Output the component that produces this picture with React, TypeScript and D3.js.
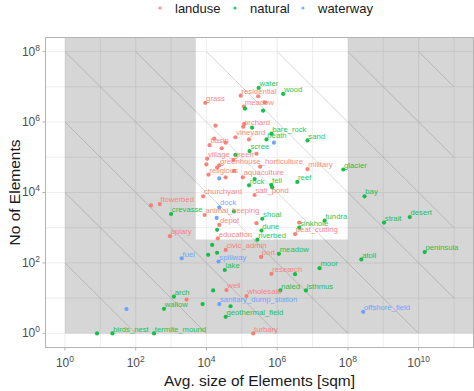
import React from "react";
import * as d3 from "d3";

// ---- data ----
const classes = ["landuse", "natural", "waterway"];
const classColors = ["#F8766D", "#00BA38", "#619CFF"];

// name ("" = unlabelled point), class, avg size [sqm], number of elements
const landuseNames = ["grass","residential","meadow","orchard","vineyard","basin","village_green","greenhouse_horticulture","religious","aquaculture","military","churchyard","salt_pond","flowerbed","","animal_keeping","depot","education","peat_cutting","apiary","civic_admin","port","research","well","wholesale","turbary","","","","","","","","","","","","","","","","","",""];
const landuseSize = [9.3e3,9.3e4,1.15e5,1.1e5,6.6e4,1.23e4,1.05e4,2.3e4,1.15e4,1.07e5,7.2e6,8.1e3,2.3e5,480,270,8.9e3,2.3e4,2.1e4,3.2e6,930,3.5e4,3.5e5,6.9e5,3.7e4,1.35e5,2.1e5,2.75e3,1.8e4,1.66e4,3.5e4,2.7e4,1.6e5,2.6e5,5.8e4,1.0e4,2.0e4,3.3e5,3.5e4,6.0e4,4.5e5,4.2e6,2.6e5,2.9e5,1.17e5];
const landuseCount = [3.5e6,5.6e6,2.75e6,7.4e5,3.7e5,2.2e5,9.1e4,5.9e4,3.2e4,2.7e4,4.6e4,7.8e3,8.5e3,4.7e3,4.3e3,2.3e3,1.2e3,500,660,575,235,148,49,17,11.5,1,9.1,7.9e5,3.4e5,2.6e5,1.8e5,3.2e5,1.26e5,8.3e4,6.3e4,5.1e4,5.4e4,2.7e4,4.1e4,3.6e6,1.4e3,1.35e3,5.4e6,8.9e5];

const naturalNames = ["water","wood","","","","bare_rock","heath","sand","scree","","glacier","rock","","fell","","reef","bay","crevasse","","shoal","tundra","strait","desert","sinkhole","dune","","riverbed","","","","meadow","atoll","peninsula","moor","lake","","naled","isthmus","","arch","","","wallow","geothermal_field","birds_nest","termite_mound",""];
const naturalSize = [3.0e5,1.48e6,1.23e5,4.0e5,1.95e5,6.9e5,5.0e5,7.2e6,1.66e5,6.6e4,7.4e7,1.6e5,2.3e5,6.8e5,7.2e5,3.7e6,2.95e8,1.0e3,6.0e4,3.8e5,2.2e7,1.05e9,5.6e9,4.2e6,3.6e5,2.0e4,2.75e5,1.45e4,2.0e4,1.12e4,1.12e6,2.4e8,1.48e10,1.58e7,3.3e4,3.2e6,1.23e6,6.5e6,1.55e4,1.2e3,7.8e3,4.8e4,630,3.5e4,22,330,8.1];
const naturalCount = [9.3e6,6.3e6,2.4e6,2.1e6,6.9e5,4.7e5,3.2e5,3.0e5,1.5e5,1.17e5,4.5e4,1.6e4,2.4e4,1.66e4,1.4e4,2.0e4,7.8e3,2.45e3,2.9e3,1.8e3,1.6e3,1.4e3,2.0e3,1.0e3,830,870,457,324,195,170,182,126,204,71,63,48,16.6,16.6,16.6,11,6.8,5.9,5,2.95,1,1,1];

const waterwayNames = ["dock","","fuel","spillway","sanitary_dump_station","offshore_field","","",""];
const waterwaySize = [2.3e4,1.95e4,2.0e3,2.2e4,2.3e4,2.7e8,55,2.3e4,8.1e5];
const waterwayCount = [3.8e3,1.9e3,135,110,6.8,4.1,4.9,2.5e4,2.6e5];

// axis ticks
const xTicks = [1, 1e2, 1e4, 1e6, 1e8, 1e10];
const xTickExp = ["0", "2", "4", "6", "8", "10"];
const yTicks = [1, 1e2, 1e4, 1e6, 1e8];
const yTickExp = ["0", "2", "4", "6", "8"];
const gridX = [1,1e1,1e2,1e3,1e4,1e5,1e6,1e7,1e8,1e9,1e10,1e11];
const gridY = [1,1e1,1e2,1e3,1e4,1e5,1e6,1e7,1e8];
// iso-area reference lines: size * count = const
const isoProducts = [1e2,1e4,1e6,1e8,1e10,1e12,1e14,1e16,1e18];
// shaded region bounds
const shadeMin = [1, 1];
const clearX = [5e3, 1e8];
const clearYMin = 460;
const xLim = [0.282, 3.55e11];
const yLim = [0.398, 2.51e8];
const lineXRange = [1, 1e11];
const lineYRange = [1, 1e8];

const FONT = "'Liberation Sans', Arial, Helvetica, sans-serif";

export default function App() {
  const W = 474, H = 391;
  const L = 45.5, R = 473.5, T = 37.5, B = 347.5;
  const x = d3.scaleLog().domain(xLim).range([L, R]);
  const y = d3.scaleLog().domain(yLim).range([B, T]);

  const pts: { name: string; cls: number; sx: number; sy: number }[] = [];
  const groups = [
    [landuseNames, landuseSize, landuseCount],
    [naturalNames, naturalSize, naturalCount],
    [waterwayNames, waterwaySize, waterwayCount],
  ] as [string[], number[], number[]][];
  groups.forEach(([n, s, c], gi) => {
    n.forEach((name, i) => pts.push({ name, cls: gi, sx: s[i], sy: c[i] }));
  });

  const line = d3.line<[number, number]>().x((d) => x(d[0])).y((d) => y(d[1]));
  const isoSegs = isoProducts.map((p) => {
    const x0 = Math.max(lineXRange[0], p / lineYRange[1]);
    const x1 = Math.min(lineXRange[1], p / lineYRange[0]);
    return line([[x0, p / x0], [x1, p / x1]]) as string;
  });

  // shaded region as path with hole
  const gx0 = x(shadeMin[0]), gy0 = y(shadeMin[1]);
  const cx0 = x(clearX[0]), cx1 = x(clearX[1]), cy = y(clearYMin);
  const shadePath = `M${gx0},${T}H${R}V${gy0}H${gx0}Z M${cx0},${T}V${cy}H${cx1}V${T}Z`;

  const legendX = [160, 235, 303];

  return (
    <svg width={W} height={H} style={{ position: "absolute", left: 0, top: 0, fontFamily: FONT }}>
      <rect x={0} y={0} width={W} height={H} fill="#fff" />
      {/* legend */}
      {classes.map((c, i) => (
        <g key={c}>
          <circle cx={legendX[i]} cy={8} r={1.6} fill={classColors[i]} opacity={0.8} />
          <text x={legendX[i] + 15} y={12.5} fontSize={13} fill="#1a1a1a">{c}</text>
        </g>
      ))}
      {/* panel */}
      <rect x={L} y={T} width={R - L} height={B - T} fill="#fff" />
      {gridX.map((g) => (
        <line key={"gx" + g} x1={x(g)} x2={x(g)} y1={T} y2={B} stroke="#e6e6e6" strokeWidth={0.7} />
      ))}
      {gridY.map((g) => (
        <line key={"gy" + g} x1={L} x2={R} y1={y(g)} y2={y(g)} stroke="#e6e6e6" strokeWidth={0.7} />
      ))}
      {isoSegs.map((d, i) => (
        <path key={"iso" + i} d={d} stroke="#cfcfcf" strokeWidth={0.8} fill="none" />
      ))}
      <path d={shadePath} fill="rgba(0,0,0,0.16)" fillRule="evenodd" />
      {pts.map((p, i) => (
        <circle key={"p" + i} cx={x(p.sx)} cy={y(p.sy)} r={2.1} fill={classColors[p.cls]} opacity={0.9} />
      ))}
      {pts.filter((p) => p.name).map((p, i) => (
        <text key={"t" + i} x={x(p.sx) + 0.8} y={y(p.sy) - 1.8} fontSize={7.7} fill={classColors[p.cls]} opacity={0.85}>
          {p.name}
        </text>
      ))}
      <rect x={L} y={T} width={R - L} height={B - T} fill="none" stroke="#b3b3b3" strokeWidth={1} />
      {/* x axis */}
      {xTicks.map((t, i) => (
        <g key={"xt" + t}>
          <line x1={x(t)} x2={x(t)} y1={B} y2={B + 3} stroke="#b3b3b3" />
          <text x={x(t)} y={367} fontSize={12} fill="#4d4d4d" textAnchor="middle">
            10<tspan fontSize={8.5} dy={-5}>{xTickExp[i]}</tspan>
          </text>
        </g>
      ))}
      {/* y axis */}
      {yTicks.map((t, i) => (
        <g key={"yt" + t}>
          <line x1={L - 3} x2={L} y1={y(t)} y2={y(t)} stroke="#b3b3b3" />
          <text x={40} y={y(t) + 4} fontSize={12} fill="#4d4d4d" textAnchor="end">
            10<tspan fontSize={8.5} dy={-5}>{yTickExp[i]}</tspan>
          </text>
        </g>
      ))}
      <text x={(L + R) / 2} y={386} fontSize={15.5} fill="#1a1a1a" textAnchor="middle">
        Avg. size of Elements [sqm]
      </text>
      <text transform={`translate(20,${(T + B) / 2}) rotate(-90)`} fontSize={15.5} fill="#1a1a1a" textAnchor="middle">
        No of Elements
      </text>
    </svg>
  );
}
